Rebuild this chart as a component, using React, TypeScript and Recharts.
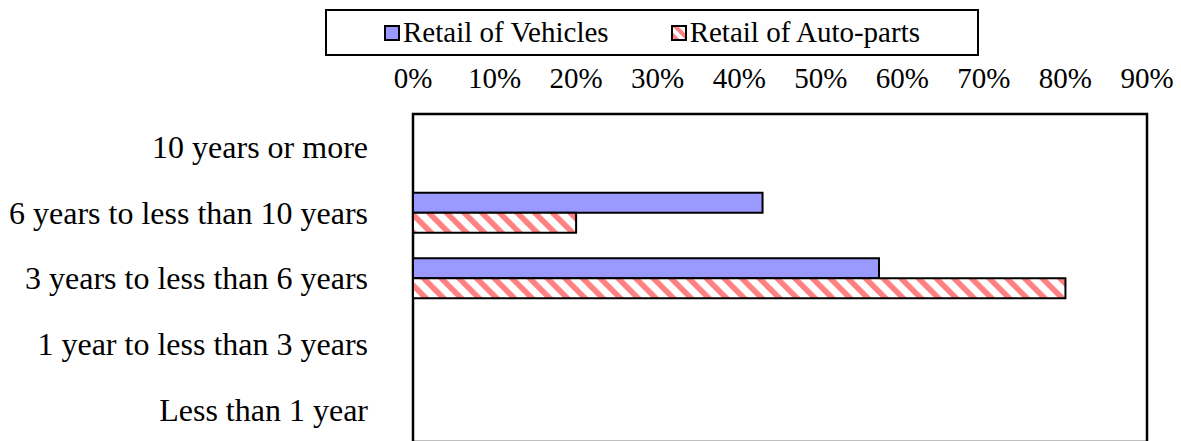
import React from 'react';
import { BarChart, Bar, XAxis, YAxis, Legend, ReferenceArea } from 'recharts';

const categories = [
  '10 years or more',
  '6 years to less than 10 years',
  '3 years to less than 6 years',
  '1 year to less than 3 years',
  'Less than 1 year',
];
const vehicles = [0, 42.86, 57.14, 0, 0];
const autoParts = [0, 20, 80, 0, 0];
const tickValues = [0, 10, 20, 30, 40, 50, 60, 70, 80, 90];
const seriesNames = ['Retail of Vehicles', 'Retail of Auto-parts'];

const data = categories.map((c, i) => ({ cat: c, vehicles: vehicles[i], autoParts: autoParts[i] }));

const FONT = '"Liberation Serif", "Times New Roman", serif';
const BLUE = '#9999FF';
const RED = '#FF8080';

const LegendBox = () => (
  <div
    style={{
      boxSizing: 'border-box',
      width: 654,
      height: 47,
      border: '2px solid #000',
      background: '#fff',
      display: 'flex',
      alignItems: 'center',
      paddingLeft: 57,
      fontFamily: FONT,
      fontSize: 29,
      color: '#000',
      lineHeight: 1,
    }}
  >
    <span style={{ display: 'inline-block', width: 16, height: 16, boxSizing: 'border-box', border: '2px solid #000', background: BLUE, marginRight: 3, flex: 'none' }} />
    <span>{seriesNames[0]}</span>
    <span style={{ display: 'inline-block', width: 62, flex: 'none' }} />
    <svg width={16} height={16} style={{ marginRight: 3, display: 'block', flex: 'none' }}>
      <rect x={1} y={1} width={14} height={14} fill="url(#hatchLegend)" stroke="#000" strokeWidth={2} />
    </svg>
    <span>{seriesNames[1]}</span>
  </div>
);

export default function App() {
  return (
    <div style={{ position: 'absolute', left: 0, top: 0, width: 1181, height: 441, overflow: 'hidden', background: '#fff' }}>
      <svg width={0} height={0} style={{ position: 'absolute' }}>
        <defs>
          <pattern id="hatch" patternUnits="userSpaceOnUse" width={12.5} height={12.5} patternTransform="rotate(-45)">
            <rect x={0} y={0} width={12.5} height={12.5} fill="#fff" />
            <rect x={0} y={0} width={5.6} height={12.5} fill={RED} />
          </pattern>
          <pattern id="hatchLegend" patternUnits="userSpaceOnUse" width={8} height={8} patternTransform="rotate(-45)">
            <rect x={0} y={0} width={8} height={8} fill="#fff" />
            <rect x={0} y={0} width={4} height={8} fill={RED} />
          </pattern>
        </defs>
      </svg>
      <BarChart
        width={1181}
        height={446}
        data={data}
        layout="vertical"
        margin={{ top: 9, right: 34, bottom: 4, left: 0 }}
        barCategoryGap="20%"
        barGap={0}
      >
        <Legend
          verticalAlign="top"
          align="left"
          content={() => <LegendBox />}
          wrapperStyle={{ top: 9, left: 325, width: 654, height: 47 }}
        />
        <XAxis
          type="number"
          orientation="top"
          domain={[0, 90]}
          ticks={tickValues}
          tickFormatter={(v: number) => `${v}%`}
          height={58}
          tickSize={0}
          tickMargin={26}
          axisLine={false}
          tickLine={false}
          tick={{ fill: '#000', fontSize: 29, fontFamily: FONT }}
          allowDataOverflow
        />
        <XAxis
          xAxisId="tk"
          type="number"
          orientation="top"
          domain={[0, 90]}
          ticks={tickValues}
          mirror
          height={0}
          tickSize={8}
          tick={false}
          axisLine={false}
          tickLine={{ stroke: '#000', strokeWidth: 1 }}
          allowDataOverflow
        />
        <YAxis
          type="category"
          dataKey="cat"
          width={413}
          tickSize={0}
          tickMargin={45}
          axisLine={false}
          tickLine={false}
          tick={{ fill: '#000', fontSize: 32, fontFamily: FONT }}
          interval={0}
        />
        <Bar dataKey="vehicles" name={seriesNames[0]} fill={BLUE} stroke="#000" strokeWidth={2} isAnimationActive={false} />
        <Bar dataKey="autoParts" name={seriesNames[1]} fill="url(#hatch)" stroke="#000" strokeWidth={2} isAnimationActive={false} />
        <ReferenceArea x1={0} x2={90} fill="none" stroke="#000" strokeWidth={2.5} fillOpacity={0} ifOverflow="visible" />
      </BarChart>
    </div>
  );
}
